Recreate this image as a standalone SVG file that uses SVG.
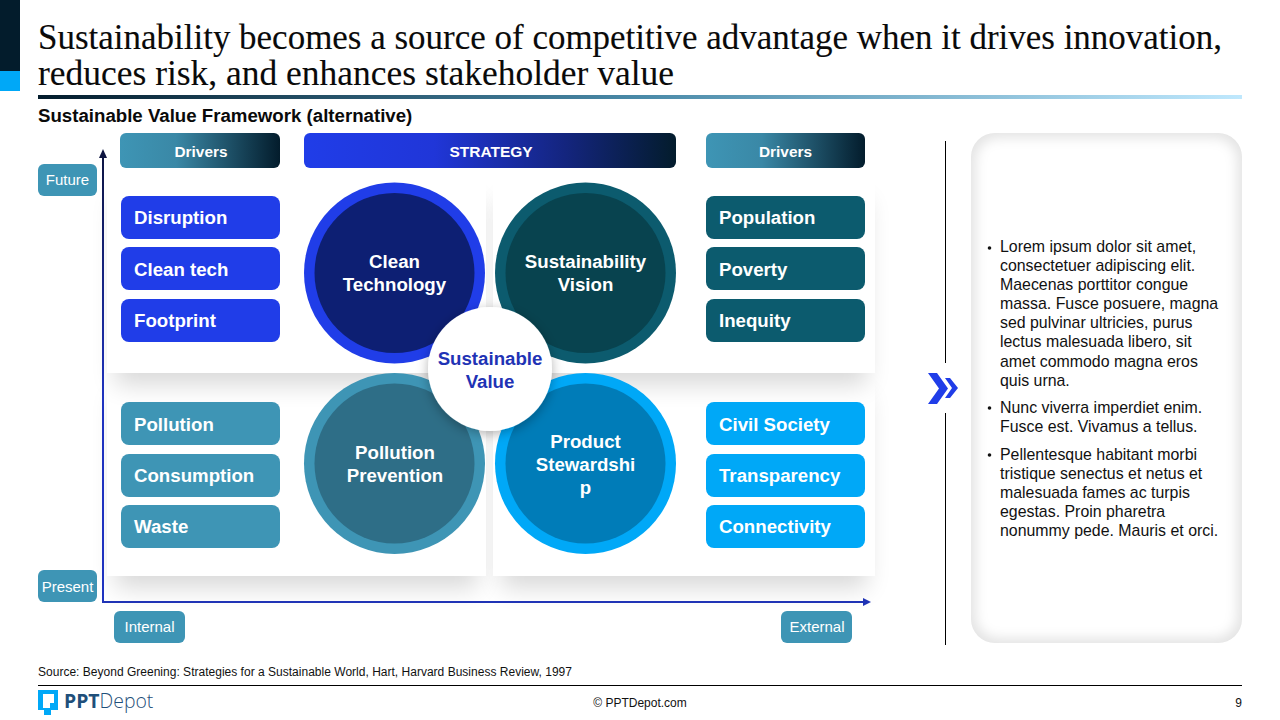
<svg xmlns="http://www.w3.org/2000/svg" width="1280" height="720" viewBox="0 0 1280 720">
<style>
text{font-family:"Liberation Sans",Arial,sans-serif}
.title{font-family:"Liberation Serif","Times New Roman",serif;font-size:35px;fill:#0a0a0a;stroke:#0a0a0a;stroke-width:.12px}
.item{font-size:18.670px;font-weight:700;fill:#fff}
.circ{font-size:18.670px;font-weight:700;fill:#fff;text-anchor:middle}
.hdr{font-size:15.400px;font-weight:700;fill:#fff;text-anchor:middle}
.lab{font-size:15px;fill:#fff;text-anchor:middle}
.body{font-size:15.900px;fill:#111}
.small{font-size:12px;fill:#111}
.blue{fill:#203de8}.teal{fill:#0c5b6e}.steel{fill:#3e95b5}.cyan{fill:#00a8f7}
.panel{fill:#fff}
.shadow{fill:#000;opacity:.15;filter:url(#sh)}
</style>
<defs>
<linearGradient id="rule" x1="0" x2="1" y1="0" y2="0"><stop offset="0" stop-color="#031c2c"/><stop offset=".5" stop-color="#4a8aa8"/><stop offset="1" stop-color="#bfe8fd"/></linearGradient>
<linearGradient id="drv" x1="0" x2="1" y1="0" y2="0"><stop offset="0" stop-color="#3e95b5"/><stop offset=".35" stop-color="#3a88a6"/><stop offset="1" stop-color="#031c2c"/></linearGradient>
<linearGradient id="str" x1="0" x2="1" y1="0" y2="0"><stop offset="0" stop-color="#203de8"/><stop offset=".35" stop-color="#2036d8"/><stop offset=".7" stop-color="#14257f"/><stop offset="1" stop-color="#031c2c"/></linearGradient>
<linearGradient id="vax" gradientUnits="userSpaceOnUse" x1="0" x2="0" y1="150" y2="400"><stop offset="0" stop-color="#0d1440"/><stop offset="1" stop-color="#1f33c0"/></linearGradient>
<filter id="sh" x="-20%" y="-25%" width="140%" height="150%"><feGaussianBlur stdDeviation="12"/></filter>
<filter id="cs" x="-30%" y="-30%" width="160%" height="160%"><feDropShadow dx="0" dy="3" stdDeviation="6" flood-color="#000" flood-opacity=".3"/></filter>
<filter id="blur" x="-10%" y="-10%" width="120%" height="120%"><feGaussianBlur stdDeviation="6"/></filter>
<clipPath id="pc"><rect x="971" y="133" width="271" height="510" rx="24"/></clipPath>
</defs>
<rect width="1280" height="720" fill="#fff"/>
<g id="accent"><rect width="20" height="71" fill="#031c2c"/><rect y="71" width="20" height="20" fill="#00a8f7"/></g>
<text class="title" x="38" y="49" textLength="1184" lengthAdjust="spacingAndGlyphs">Sustainability becomes a source of competitive advantage when it drives innovation,</text>
<text class="title" x="38" y="85" textLength="636" lengthAdjust="spacingAndGlyphs">reduces risk, and enhances stakeholder value</text>
<rect x="38" y="95" width="1204" height="4" fill="url(#rule)"/>
<text x="38" y="122" font-size="18.670" font-weight="700" fill="#0a0a0a">Sustainable Value Framework (alternative)</text>
<g id="panels">
<rect class="shadow" x="115" y="395" width="363" height="193"/>
<rect class="shadow" x="501" y="395" width="366" height="193"/>
<rect class="panel" x="107" y="373" width="379" height="203"/>
<rect class="panel" x="493" y="373" width="382" height="203"/>
<rect class="shadow" x="115" y="200" width="363" height="185"/>
<rect class="shadow" x="501" y="200" width="366" height="185"/>
<rect class="panel" x="107" y="178" width="379" height="195"/>
<rect class="panel" x="493" y="178" width="382" height="195"/>
</g>
<g id="connectors">
<line x1="103" y1="602" x2="103" y2="151" stroke="url(#vax)" stroke-width="2" />
<path d="M103 149l-4 9h8z" fill="#0d1440"/>
<line x1="102" y1="602" x2="864" y2="602" stroke="#1f33b5" stroke-width="2"/>
<path d="M871 602l-8-4v8z" fill="#1f33b5"/>
<path d="M945.500 141V363M945.500 413V645" stroke="#000" fill="none"/>
</g>
<g id="hdr-left"><rect x="120" y="133" width="160" height="35" rx="6" fill="url(#drv)"/><text class="hdr" x="201" y="157">Drivers</text></g>
<g id="hdr-strategy"><rect x="304" y="133" width="372" height="35" rx="6" fill="url(#str)"/><text class="hdr" x="491" y="156.500" style="font-size:15.500px">STRATEGY</text></g>
<g id="hdr-right"><rect x="706" y="133" width="159" height="35" rx="6" fill="url(#drv)"/><text class="hdr" x="785.500" y="157">Drivers</text></g>
<g id="lab-future"><rect x="38" y="164" width="59" height="32" rx="6" class="steel"/><text class="lab" x="67.500" y="185">Future</text></g>
<g id="lab-present"><rect x="38" y="570" width="59" height="32" rx="6" class="steel"/><text class="lab" x="67.500" y="592">Present</text></g>
<g id="lab-internal"><rect x="114" y="611" width="71" height="32" rx="6" class="steel"/><text class="lab" x="149.500" y="632">Internal</text></g>
<g id="lab-external"><rect x="781" y="611" width="71" height="32" rx="6" class="steel"/><text class="lab" x="817" y="632">External</text></g>
<g id="n-disruption"><rect x="121" y="196" width="159" height="43" rx="8" class="blue"/><text class="item" x="134" y="224">Disruption</text></g>
<g id="n-cleantech"><rect x="121" y="247" width="159" height="43" rx="8" class="blue"/><text class="item" x="134" y="276">Clean tech</text></g>
<g id="n-footprint"><rect x="121" y="299" width="159" height="43" rx="8" class="blue"/><text class="item" x="134" y="327">Footprint</text></g>
<g id="n-pollution"><rect x="121" y="402" width="159" height="43" rx="8" class="steel"/><text class="item" x="134" y="431">Pollution</text></g>
<g id="n-consumption"><rect x="121" y="454" width="159" height="43" rx="8" class="steel"/><text class="item" x="134" y="482">Consumption</text></g>
<g id="n-waste"><rect x="121" y="505" width="159" height="43" rx="8" class="steel"/><text class="item" x="134" y="533">Waste</text></g>
<g id="n-population"><rect x="706" y="196" width="159" height="43" rx="8" class="teal"/><text class="item" x="719" y="224">Population</text></g>
<g id="n-poverty"><rect x="706" y="247" width="159" height="43" rx="8" class="teal"/><text class="item" x="719" y="276">Poverty</text></g>
<g id="n-inequity"><rect x="706" y="299" width="159" height="43" rx="8" class="teal"/><text class="item" x="719" y="327">Inequity</text></g>
<g id="n-civil"><rect x="706" y="402" width="159" height="43" rx="8" class="cyan"/><text class="item" x="719" y="431">Civil Society</text></g>
<g id="n-transparency"><rect x="706" y="454" width="159" height="43" rx="8" class="cyan"/><text class="item" x="719" y="482">Transparency</text></g>
<g id="n-connectivity"><rect x="706" y="505" width="159" height="43" rx="8" class="cyan"/><text class="item" x="719" y="533">Connectivity</text></g>
<g id="c-clean"><circle cx="394.500" cy="273" r="90.500" class="blue"/><circle cx="394.500" cy="273" r="80" fill="#0d1f73"/><text class="circ" x="394.500" y="268">Clean</text><text class="circ" x="394.500" y="291">Technology</text></g>
<g id="c-vision"><circle cx="585.500" cy="273" r="90.500" class="teal"/><circle cx="585.500" cy="273" r="80" fill="#08434f"/><text class="circ" x="585.500" y="268">Sustainability</text><text class="circ" x="585.500" y="291">Vision</text></g>
<g id="c-pollution"><circle cx="394.500" cy="463.500" r="90.500" class="steel"/><circle cx="394.500" cy="463.500" r="80" fill="#2e6e87"/><text class="circ" x="395" y="459">Pollution</text><text class="circ" x="395" y="482">Prevention</text></g>
<g id="c-product"><circle cx="585.500" cy="463.500" r="90.500" class="cyan"/><circle cx="585.500" cy="463.500" r="80" fill="#007cb8"/><text class="circ" x="585.500" y="448">Product</text><text class="circ" x="585.500" y="471">Stewardshi</text><text class="circ" x="585.500" y="494">p</text></g>
<g id="c-center"><circle cx="490" cy="369" r="62" fill="#fff" filter="url(#cs)"/><text class="circ" x="490" y="365" style="fill:#1f33b5">Sustainable</text><text class="circ" x="490" y="388" style="fill:#1f33b5">Value</text></g>
<g id="chevrons"><path d="M928 373h9l11 15.500-11 15.500h-9l11-15.500z" fill="#203de8"/><path d="M945 378h5l8 10-8 10h-5l7-10z" fill="#203de8"/></g>
<g id="text-panel">
<rect x="971" y="133" width="271" height="510" rx="24" fill="#e4e4e4"/>
<g clip-path="url(#pc)"><rect x="976" y="138" width="261" height="500" rx="22" fill="#fff" filter="url(#blur)"/></g>
<circle cx="989.500" cy="248" r="1.800" fill="#111"/>
<text class="body" x="1000" y="252">Lorem ipsum dolor sit amet,</text>
<text class="body" x="1000" y="271">consectetuer adipiscing elit.</text>
<text class="body" x="1000" y="290">Maecenas porttitor congue</text>
<text class="body" x="1000" y="309">massa. Fusce posuere, magna</text>
<text class="body" x="1000" y="328">sed pulvinar ultricies, purus</text>
<text class="body" x="1000" y="347">lectus malesuada libero, sit</text>
<text class="body" x="1000" y="367">amet commodo magna eros</text>
<text class="body" x="1000" y="386">quis urna.</text>
<circle cx="989.500" cy="408" r="1.800" fill="#111"/>
<text class="body" x="1000" y="413">Nunc viverra imperdiet enim.</text>
<text class="body" x="1000" y="432">Fusce est. Vivamus a tellus.</text>
<circle cx="989.500" cy="455" r="1.800" fill="#111"/>
<text class="body" x="1000" y="460">Pellentesque habitant morbi</text>
<text class="body" x="1000" y="479">tristique senectus et netus et</text>
<text class="body" x="1000" y="498">malesuada fames ac turpis</text>
<text class="body" x="1000" y="517">egestas. Proin pharetra</text>
<text class="body" x="1000" y="536">nonummy pede. Mauris et orci.</text>
</g>
<g id="footer">
<text class="small" x="38" y="676" textLength="534">Source: Beyond Greening: Strategies for a Sustainable World, Hart, Harvard Business Review, 1997</text>
<line x1="38" y1="685.500" x2="1242" y2="685.500" stroke="#000"/>
<text class="small" x="640" y="707" text-anchor="middle">© PPTDepot.com</text>
<text class="small" x="1242" y="707" text-anchor="end">9</text>
<path fill-rule="evenodd" d="M38 690H58V710H51V715H44V710H38ZM43 694V708H50V703H54V694Z" fill="#00a8f7"/>
<text x="64" y="708" font-size="19.400" style="font-family:'Open Sans',sans-serif" fill="#1f4f7a"><tspan font-weight="700">PPT</tspan><tspan font-weight="300">Depot</tspan></text>
</g>
</svg>
